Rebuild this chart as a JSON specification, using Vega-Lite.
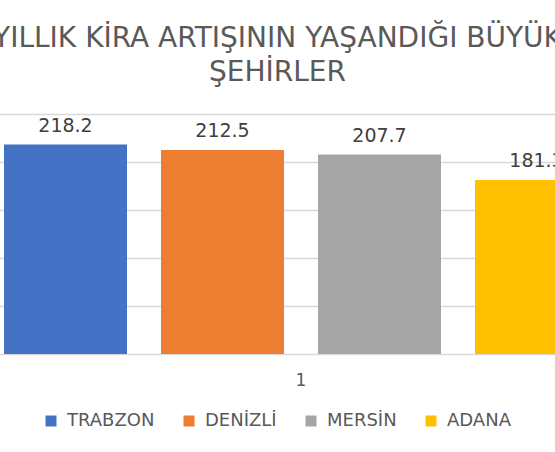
{
  "$schema": "https://vega.github.io/schema/vega-lite/v6.json",
  "width": 555,
  "height": 240,
  "autosize": {"type": "none"},
  "padding": {"left": 0, "top": 114, "right": 0, "bottom": 98},
  "background": "white",
  "title": {
    "text": ["YILLIK KİRA ARTIŞININ YAŞANDIĞI BÜYÜK", "ŞEHİRLER"],
    "font": "DejaVu Sans",
    "fontSize": 28,
    "fontWeight": "normal",
    "color": "#595959",
    "lineHeight": 34,
    "anchor": "middle",
    "offset": 27
  },
  "data": {
    "values": [
      {"kategori": "1", "sehir": "TRABZON", "artis": 218.2},
      {"kategori": "1", "sehir": "DENİZLİ", "artis": 212.5},
      {"kategori": "1", "sehir": "MERSİN", "artis": 207.7},
      {"kategori": "1", "sehir": "ADANA", "artis": 181.3}
    ]
  },
  "encoding": {
    "x": {
      "field": "kategori",
      "type": "nominal",
      "scale": {"range": [-13, 615], "paddingInner": 0, "paddingOuter": 0},
      "axis": {
        "title": null,
        "labelAngle": 0,
        "domain": false,
        "ticks": false,
        "grid": false,
        "labelPadding": 18,
        "labelFont": "DejaVu Sans",
        "labelFontSize": 17,
        "labelColor": "#595959"
      }
    },
    "xOffset": {
      "field": "sehir",
      "type": "nominal",
      "sort": ["TRABZON", "DENİZLİ", "MERSİN", "ADANA"],
      "scale": {"paddingInner": 0.2166, "paddingOuter": 0.1083}
    },
    "y": {
      "field": "artis",
      "type": "quantitative",
      "scale": {"domain": [0, 250], "nice": false},
      "axis": {
        "title": null,
        "labels": false,
        "ticks": false,
        "domain": false,
        "values": [0, 50, 100, 150, 200, 250],
        "gridColor": "#d9d9d9",
        "gridWidth": 1.3
      }
    }
  },
  "layer": [
    {
      "mark": {"type": "bar"},
      "encoding": {
        "color": {
          "field": "sehir",
          "type": "nominal",
          "sort": ["TRABZON", "DENİZLİ", "MERSİN", "ADANA"],
          "scale": {
            "domain": ["TRABZON", "DENİZLİ", "MERSİN", "ADANA"],
            "range": ["#4472C4", "#ED7D31", "#A5A5A5", "#FFC000"]
          },
          "legend": {
            "title": null,
            "orient": "none",
            "direction": "horizontal",
            "columns": 4,
            "legendX": 42,
            "legendY": 298,
            "padding": 0,
            "symbolType": "square",
            "symbolSize": 121,
            "symbolStrokeWidth": 0,
            "labelFont": "DejaVu Sans",
            "labelFontSize": 18,
            "labelColor": "#595959",
            "labelOffset": 7,
            "columnPadding": 25
          }
        }
      }
    },
    {
      "mark": {
        "type": "text",
        "baseline": "alphabetic",
        "dy": -13,
        "font": "DejaVu Sans",
        "fontSize": 19,
        "color": "#404040"
      },
      "encoding": {
        "text": {"field": "artis", "type": "quantitative", "format": ".1f"}
      }
    }
  ],
  "config": {"view": {"stroke": null}}
}
